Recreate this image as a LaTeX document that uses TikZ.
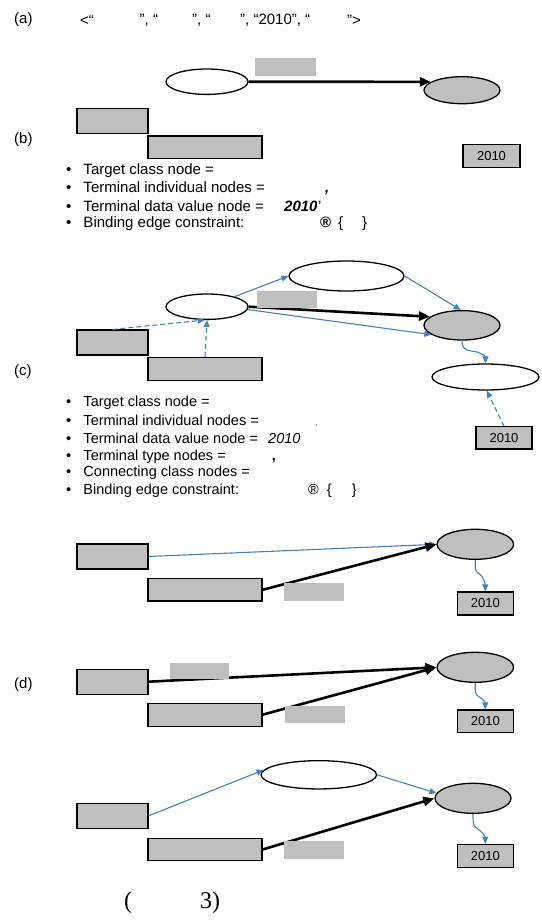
\documentclass[tikz,border=0pt]{standalone}
\usepackage{fontspec}
\setmainfont{Liberation Sans}
\newfontfamily\serifx{Liberation Serif}
\usetikzlibrary{shapes.geometric,arrows.meta}
\definecolor{boxgray}{HTML}{BFBFBF}
\definecolor{lineblue}{HTML}{4A7EBB}
\newcommand{\mybul}{\makebox[17.3pt][l]{•}}
\begin{document}
\begin{tikzpicture}[x=1pt,y=-1pt,
  cls/.style={ellipse,draw,line width=1.3pt,fill=white,inner sep=0pt},
  tgt/.style={ellipse,draw,line width=1.3pt,fill=boxgray,inner sep=0pt},
  ent/.style={rectangle,draw,line width=1.1pt,fill=boxgray,inner sep=0pt},
  lbl/.style={rectangle,fill=boxgray,inner sep=0pt},
  val/.style={rectangle,draw,line width=1.1pt,fill=boxgray,inner sep=0pt,font=\fontsize{13}{13}\selectfont},
  txt/.style={anchor=west,inner sep=0pt,font=\fontsize{15}{18}\selectfont},
  txtc/.style={anchor=west,inner sep=0pt,font=\fontsize{14.5}{17}\selectfont},
  blu/.style={draw=lineblue,line width=1.1pt,-{Triangle[length=7pt,width=6pt]}},
  bludash/.style={blu,dash pattern=on 5pt off 3pt},
  blk/.style={line width=2.6pt,-{Triangle[length=11pt,width=9pt]}}
]
\useasboundingbox (0,0) rectangle (541,921);

% ---------- (a)
\node[txt] (alab) at (14,20) {(a)};
\node[txt] (a1) at (80,20) {<“};
\node[txt] (a2) at (139.5,20) {”, “};
\node[txt] (a3) at (192,20) {”, “};
\node[txt] (a4) at (240,20) {”, “2010”, “};
\node[txt] (a5) at (347,20) {”>};

% ---------- (b)
\node[txt] (blab) at (14,140) {(b)};
\node[cls,minimum width=82pt,minimum height=25.4pt] (bW) at (207,81.7) {};
\node[tgt,minimum width=76pt,minimum height=27pt] (bT) at (462,90.2) {};
\node[ent,minimum width=71pt,minimum height=24.6pt] (bR1) at (112.5,121) {};
\node[ent,minimum width=114pt,minimum height=22.7pt] (bR2) at (205,147.3) {};
\node[val,minimum width=57pt,minimum height=22.6pt] (bD) at (491.5,156) {2010};
\draw[blk] (bW.east) -- (bT.165);
\node[lbl,minimum width=61pt,minimum height=17.7pt] (bL) at (285.5,66.8) {};

\node[txt] (b1) at (66,170.7) {\mybul Target class node =};
\node[txt] (b2) at (66,188.3) {\mybul\makebox[241.7pt][l]{Terminal individual nodes =}{\bfseries\itshape ,}};
\node[txt] (b3) at (66,206) {\mybul\makebox[200.7pt][l]{Terminal data value node =}\makebox[34pt][l]{\bfseries\itshape 2010}’};
\node[txt] (b4) at (66,223.3) {\mybul\makebox[236.7pt][l]{Binding edge constraint:}\makebox[18pt][l]{\bfseries ®}\makebox[24pt][l]{\{}\}};

% ---------- (c)
\node[txt] (clab) at (14,371.7) {(c)};
\node[cls,minimum width=115pt,minimum height=30pt] (cTop) at (346.5,276) {};
\node[cls,minimum width=82pt,minimum height=25.4pt] (cW) at (207,306.7) {};
\node[tgt,minimum width=76pt,minimum height=29.4pt] (cT) at (462,325.3) {};
\node[cls,minimum width=107pt,minimum height=26pt] (cLow) at (485.5,377) {};
\node[ent,minimum width=71pt,minimum height=25pt] (cR1) at (112.5,342.5) {};
\node[ent,minimum width=114pt,minimum height=22.7pt] (cR2) at (205,368.7) {};
\node[val,minimum width=56pt,minimum height=22.3pt] (cD) at (504,437.8) {2010};
\draw[blu] (cW.20) -- (cTop.west);
\draw[blu] (cTop.east) -- (cT.95);
\draw[blk] (cW.east) -- (cT.165);
\draw[blu] (cW.-4) -- (cT.197);
\draw[bludash] (cR1.north) -- (cW.-100);
\draw[bludash] (cR2.north) -- (cW.south);
\draw[blu] (cT.south) .. controls +(0,12) and +(-7,-2) .. (477,352) .. controls +(5,1.5) and +(0,-7) .. (cLow.north);
\draw[bludash] (cD.north) -- (cLow.-85);
\node[lbl,minimum width=60pt,minimum height=16.7pt] (cL) at (287,299.3) {};

\node[txtc] (c1) at (66,403) {\mybul Target class node =};
\node[txtc] (c2) at (66,420.7) {\mybul\makebox[231.7pt][l]{Terminal individual nodes =}{\color{gray}\fontsize{10}{10}\selectfont ,}};
\node[txtc] (c3) at (66,438.7) {\mybul\makebox[184.7pt][l]{Terminal data value node =}{\itshape 2010}};
\node[txtc] (c4) at (66,456.3) {\mybul\makebox[188.4pt][l]{Terminal type nodes =}{\bfseries ,}};
\node[txtc] (c5) at (66,473) {\mybul Connecting class nodes =};
\node[txtc] (c6) at (66,490.7) {\mybul\makebox[224.7pt][l]{Binding edge constraint:}\makebox[18.7pt][l]{®}\makebox[25pt][l]{\{}\}};

% ---------- (d) first
\node[ent,minimum width=71pt,minimum height=25pt] (dR1) at (112.5,556.5) {};
\node[ent,minimum width=114pt,minimum height=22.3pt] (dR2) at (205,589.8) {};
\node[tgt,minimum width=76.5pt,minimum height=30pt] (dT) at (475.3,544.3) {};
\node[val,minimum width=56.5pt,minimum height=23pt] (dD) at (485.3,603.5) {2010};
\draw[blu] (dR1.east) -- (dT.west);
\draw[blk] (dR2.east) -- (dT.west);
\draw[blu] (dT.south) .. controls +(0,10) and +(-5,-3) .. (479.5,574) .. controls +(4,2.5) and +(0,-7) .. (dD.north);
\node[lbl,minimum width=60pt,minimum height=17.7pt] (dL) at (314,591.8) {};

% ---------- (d) second
\node[txt] (dlab) at (14,685) {(d)};
\node[tgt,minimum width=76.5pt,minimum height=30pt] (eT) at (475.3,667.3) {};
\node[ent,minimum width=71pt,minimum height=24.7pt] (eR1) at (112.5,681.7) {};
\node[ent,minimum width=114pt,minimum height=22.7pt] (eR2) at (205,714.7) {};
\node[val,minimum width=56.5pt,minimum height=22.7pt] (eD) at (485.3,721.3) {2010};
\draw[blk] (eR1.east) -- (eT.west);
\draw[blk] (eR2.east) -- (eT.west);
\draw[blu] (eT.south) .. controls +(0,10) and +(-5,-3) .. (479.5,697) .. controls +(4,2.5) and +(0,-7) .. (eD.north);
\node[lbl,minimum width=59.5pt,minimum height=16pt] (eL1) at (199.3,671.3) {};
\node[lbl,minimum width=60pt,minimum height=17.3pt] (eL2) at (315,714.7) {};

% ---------- (d) third
\node[cls,minimum width=115.5pt,minimum height=28.3pt] (fTop) at (318.8,774.8) {};
\node[tgt,minimum width=76pt,minimum height=30pt] (fT) at (473,798.3) {};
\node[ent,minimum width=71pt,minimum height=25pt] (fR1) at (112.5,815.8) {};
\node[ent,minimum width=114pt,minimum height=22.4pt] (fR2) at (205,849.5) {};
\node[val,minimum width=56.5pt,minimum height=23pt] (fD) at (485.3,855.8) {2010};
\draw[blu] (fR1.east) -- (fTop.175);
\draw[blu] (fTop.east) -- (fT.172);
\draw[blk] (fR2.east) -- (fT.west);
\draw[blu] (fT.south) .. controls +(0,10) and +(-5,-3) .. (478,829) .. controls +(4,2.5) and +(0,-7) .. (fD.north);
\node[lbl,minimum width=60pt,minimum height=18pt] (fL) at (314,850) {};

% ---------- caption
\node[anchor=west,inner sep=0pt,font=\serifx\fontsize{24}{24}\selectfont] (cap1) at (124,903) {(};
\node[anchor=west,inner sep=0pt,font=\serifx\fontsize{24}{24}\selectfont] (cap2) at (200,903) {3)};
\end{tikzpicture}
\end{document}
